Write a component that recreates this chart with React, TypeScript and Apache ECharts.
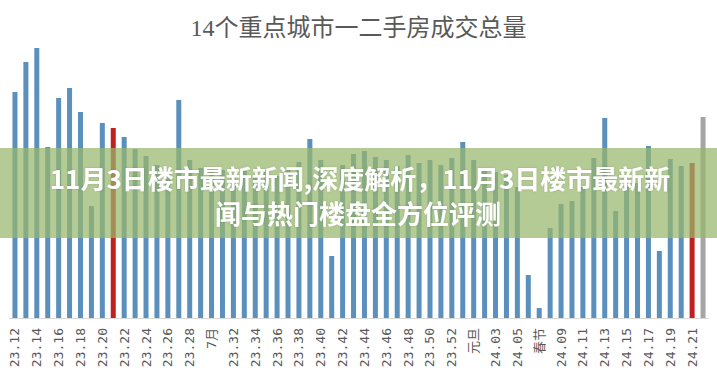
import React, { useEffect, useRef } from "react";
import * as echarts from "echarts";

const titleText = "14个重点城市一二手房成交总量";
const bannerLines = ["11月3日楼市最新新闻,深度解析，11月3日楼市最新新", "闻与热门楼盘全方位评测"];

const weeks2023 = [
  "23.12", "23.13", "23.14", "23.15", "23.16", "23.17", "23.18", "23.19", "23.20", "23.21",
  "23.22", "23.23", "23.24", "23.25", "23.26", "23.27", "23.28", "23.29", "7月", "23.31",
  "23.32", "23.33", "23.34", "23.35", "23.36", "23.37", "23.38", "23.39", "23.40", "23.41",
  "23.42", "23.43", "23.44", "23.45", "23.46", "23.47", "23.48", "23.49", "23.50", "23.51",
  "23.52", "23.53",
];
const weeks2024 = [
  "元旦", "24.02", "24.03", "24.04", "24.05", "24.06", "春节", "24.08", "24.09", "24.10",
  "24.11", "24.12", "24.13", "24.14", "24.15", "24.16", "24.17", "24.18", "24.19", "24.20",
  "24.21", "24.22",
];
const categories = [...weeks2023, ...weeks2024];

const volumes = [
  226, 256, 270, 171, 220, 230, 206, 112, 195, 190,
  181, 169, 162, 153, 148, 218, 158, 150, 146, 148,
  143, 150, 140, 146, 142, 148, 156, 179, 158, 62,
  153, 164, 167, 161, 158, 152, 163, 155, 158, 153,
  160, 176,
  158, 150, 146, 143, 131, 43, 10, 90, 114, 117,
  131, 160, 200, 107, 131, 135, 172, 67, 159, 152,
  155, 201,
];

const sameWeekMarks = ["23.21", "24.21"];
const latestWeek = "24.22";

export default function App() {
  const ref = useRef<HTMLDivElement>(null);
  useEffect(() => {
    if (!ref.current) return;
    const chart = echarts.init(ref.current, undefined, { renderer: "svg" });
    chart.setOption({
      animation: false,
      backgroundColor: "#ffffff",
      title: {
        text: titleText,
        left: "center",
        top: 11,
        textStyle: {
          fontFamily: "'Liberation Serif', 'Noto Sans CJK SC'",
          fontSize: 24,
          fontWeight: "normal",
          color: "#595959",
        },
      },
      grid: { left: 9.5, right: 8.5, top: 18, bottom: 69 },
      xAxis: {
        type: "category",
        data: categories,
        axisLine: { show: true, lineStyle: { color: "#d9d9d9", width: 1 } },
        axisTick: { show: false },
        axisLabel: {
          interval: 1,
          rotate: 90,
          margin: 10,
          color: "#595959",
          fontSize: 13,
          fontFamily: "'DejaVu Sans Mono', 'Noto Sans CJK SC'",
        },
      },
      yAxis: {
        type: "value",
        min: 0,
        max: 300,
        show: false,
        splitLine: { show: false },
      },
      series: [
        {
          type: "bar",
          data: volumes,
          barWidth: 5,
          itemStyle: {
            color: (p: any) => {
              const name = categories[p.dataIndex];
              if (name === latestWeek) return "#a5a5a5";
              if (sameWeekMarks.includes(name)) return "#c0201f";
              return "#5b8fbc";
            },
          },
        },
      ],
      graphic: [
        {
          type: "rect",
          x: 0,
          y: 148,
          shape: { width: 717, height: 90 },
          style: { fill: "rgba(153,183,108,0.72)" },
          z: 100,
        },
        {
          type: "text",
          x: 360,
          y: 177,
          z: 101,
          style: {
            text: bannerLines[0],
            fill: "#ffffff",
            font: "bold 26px 'Noto Sans CJK SC'",
            align: "center",
            verticalAlign: "middle",
            textShadowColor: "rgba(0,0,0,0.15)",
            textShadowBlur: 2,
          },
        },
        {
          type: "text",
          x: 358,
          y: 212,
          z: 101,
          style: {
            text: bannerLines[1],
            fill: "#ffffff",
            font: "bold 26px 'Noto Sans CJK SC'",
            align: "center",
            verticalAlign: "middle",
            textShadowColor: "rgba(0,0,0,0.15)",
            textShadowBlur: 2,
          },
        },
      ],
    });
    return () => chart.dispose();
  }, []);
  return (
    <div
      ref={ref}
      style={{ position: "fixed", left: 0, top: 0, width: 717, height: 387 }}
    />
  );
}
